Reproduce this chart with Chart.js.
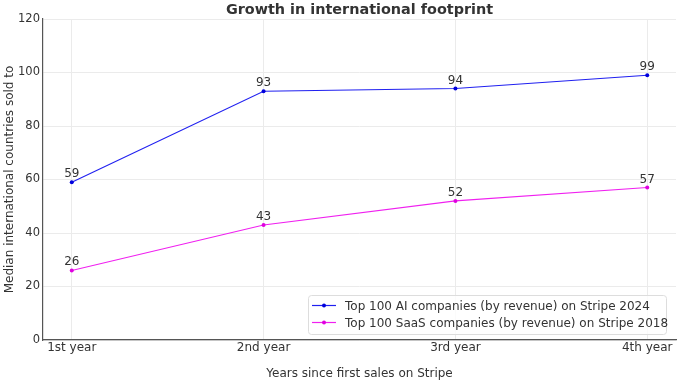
<!DOCTYPE html>
<html><head><meta charset="utf-8">
<script src="https://cdn.jsdelivr.net/npm/chart.js@4"></script>
<style>html,body{margin:0;padding:0;background:#fff}#wrap{width:680px;height:381px}</style>
</head><body><div id="wrap"><canvas id="c" width="680" height="381"></canvas></div>
<script>
const categories = ["1st year", "2nd year", "3rd year", "4th year"];
const aiValues = [59, 93, 94, 99];
const saasValues = [26, 43, 52, 57];
const seriesLabels = ["Top 100 AI companies (by revenue) on Stripe 2024", "Top 100 SaaS companies (by revenue) on Stripe 2018"];
const yTicks = [0, 20, 40, 60, 80, 100, 120];

const FONT = "'DejaVu Sans', sans-serif";
const TXT = "#333333";

const toXY = arr => arr.map((v, i) => ({x: i, y: v}));

const labelsPlugin = {
  id: 'extras',
  afterDatasetsDraw(chart) {
    const ctx = chart.ctx;
    ctx.save();
    ctx.font = "12px " + FONT;
    ctx.fillStyle = TXT;
    ctx.textAlign = 'center';
    ctx.textBaseline = 'alphabetic';
    chart.data.datasets.forEach((ds, di) => {
      const meta = chart.getDatasetMeta(di);
      meta.data.forEach((pt, i) => {
        ctx.fillText(String(ds.data[i].y), pt.x, pt.y - 5);
      });
    });
    // title
    const ca = chart.chartArea;
    ctx.font = "bold 14.4px " + FONT;
    ctx.textBaseline = 'middle';
    ctx.fillText("Growth in international footprint", (ca.left + ca.right) / 2, 10);
    // legend
    const bx = 308, by = 295, bw = 358, bh = 39;
    ctx.fillStyle = 'rgba(255,255,255,0.8)';
    ctx.strokeStyle = '#dddddd';
    ctx.lineWidth = 1;
    ctx.beginPath();
    ctx.roundRect(bx + 0.5, by + 0.5, bw, bh, 3);
    ctx.fill();
    ctx.stroke();
    ctx.font = "12px " + FONT;
    ctx.textAlign = 'left';
    chart.data.datasets.forEach((ds, di) => {
      const yy = by + 10.5 + di * 17;
      ctx.strokeStyle = ds.borderColor;
      ctx.lineWidth = 1.2;
      ctx.beginPath();
      ctx.moveTo(bx + 4, yy);
      ctx.lineTo(bx + 28, yy);
      ctx.stroke();
      ctx.fillStyle = ds.backgroundColor;
      ctx.beginPath();
      ctx.arc(bx + 16, yy, 2, 0, Math.PI * 2);
      ctx.fill();
      ctx.fillStyle = TXT;
      ctx.fillText(ds.label, bx + 37, yy + 1);
    });
    ctx.restore();
  }
};

new Chart(document.getElementById('c'), {
  type: 'line',
  data: {
    datasets: [
      {label: seriesLabels[0], data: toXY(aiValues), borderColor: '#2020f0', backgroundColor: '#0000dd', borderWidth: 1.1, pointRadius: 2, pointBorderWidth: 0, tension: 0},
      {label: seriesLabels[1], data: toXY(saasValues), borderColor: '#f020f0', backgroundColor: '#e000e0', borderWidth: 1.1, pointRadius: 2, pointBorderWidth: 0, tension: 0}
    ]
  },
  options: {
    responsive: false,
    animation: false,
    devicePixelRatio: 1,
    layout: {padding: {top: 19, right: 4, left: 0, bottom: 0}},
    plugins: {legend: {display: false}, tooltip: {enabled: false}, title: {display: false}},
    scales: {
      x: {
        type: 'linear', min: -0.15, max: 3.15,
        afterBuildTicks: s => { s.ticks = categories.map((c, i) => ({value: i})); },
        afterFit: s => { s.height = 41; },
        ticks: {callback: v => categories[v] ?? '', font: {family: FONT, size: 12}, color: TXT, padding: 1, maxRotation: 0, autoSkip: false},
        grid: {color: '#ebebeb', lineWidth: 1, drawTicks: false},
        border: {color: '#555', width: 1.2},
        title: {display: true, text: 'Years since first sales on Stripe', font: {family: FONT, size: 12}, color: TXT, padding: {top: 9, bottom: 0}}
      },
      y: {
        min: 0, max: 120,
        afterBuildTicks: s => { s.ticks = yTicks.map(v => ({value: v})); },
        afterFit: s => { s.width = 43; },
        ticks: {font: {family: FONT, size: 11.5}, color: TXT, padding: 3},
        grid: {color: '#ebebeb', lineWidth: 1, drawTicks: false},
        border: {color: '#555', width: 1.2},
        title: {display: true, text: 'Median international countries sold to', font: {family: FONT, size: 12}, color: TXT, padding: {top: 3, bottom: 0}}
      }
    }
  },
  plugins: [labelsPlugin]
});
</script></body></html>
